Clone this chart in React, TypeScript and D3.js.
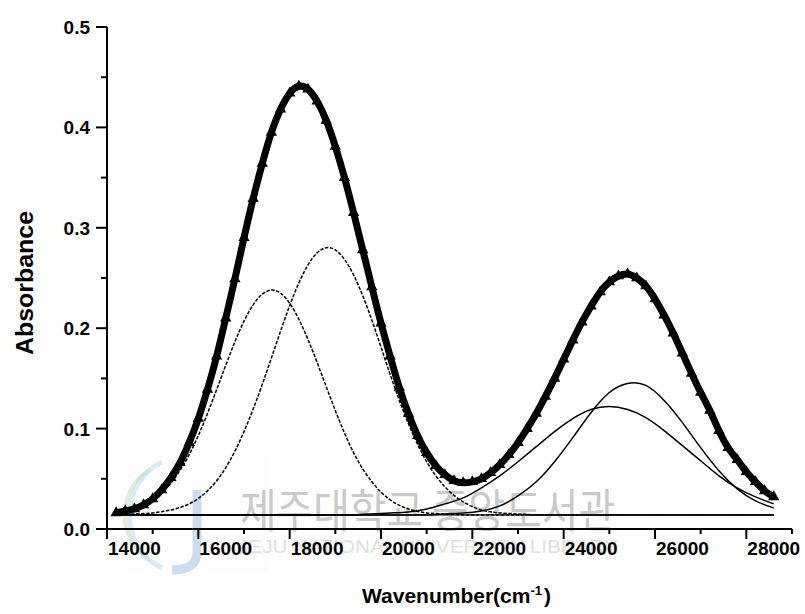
import React from 'react';
import * as d3 from 'd3';

const specWn = [
  14200, 14400, 14600, 14800, 15000, 15200, 15400, 15600, 15800, 16000,
  16200, 16400, 16600, 16800, 17000, 17200, 17400, 17600, 17800, 18000,
  18200, 18400, 18600, 18800, 19000, 19200, 19400, 19600, 19800, 20000,
  20200, 20400, 20600, 20800, 21000, 21200, 21400, 21600, 21800, 22000,
  22200, 22400, 22600, 22800, 23000, 23200, 23400, 23600, 23800, 24000,
  24200, 24400, 24600, 24800, 25000, 25200, 25400, 25600, 25800, 26000,
  26200, 26400, 26600, 26800, 27000, 27200, 27400, 27600, 27800, 28000,
  28200, 28400, 28600,
];
const absorbance = [
  0.016, 0.018, 0.020, 0.024, 0.030, 0.039, 0.051, 0.066, 0.086, 0.110,
  0.139, 0.172, 0.210, 0.249, 0.290, 0.329, 0.364, 0.395, 0.418, 0.434,
  0.441, 0.438, 0.426, 0.407, 0.381, 0.350, 0.315, 0.278, 0.241, 0.205,
  0.172, 0.141, 0.115, 0.093, 0.076, 0.063, 0.054, 0.048, 0.046, 0.047,
  0.050, 0.056, 0.064, 0.074, 0.086, 0.100, 0.115, 0.132, 0.150, 0.169,
  0.188, 0.206, 0.222, 0.236, 0.246, 0.252, 0.254, 0.250, 0.242, 0.229,
  0.213, 0.195, 0.175, 0.155, 0.136, 0.118, 0.098, 0.081, 0.069, 0.057,
  0.047, 0.038, 0.032,
];

// fitted bands
const fitWn = [
  14200, 14600, 15000, 15400, 15800, 16200, 16600, 17000, 17400, 17800,
  18200, 18600, 19000, 19400, 19800, 20200, 20600, 21000, 21400, 21800,
  22200, 22600, 23000, 23400, 23800, 24200, 24600, 25000, 25400, 25800,
  26200, 26600, 27000, 27400, 27800, 28200, 28600,
];
const band1 = [
  0.016, 0.020, 0.029, 0.046, 0.074, 0.115, 0.163, 0.207, 0.234, 0.235,
  0.209, 0.166, 0.118, 0.076, 0.047, 0.029, 0.020, 0.016, 0.015, 0.014,
  0.014, 0.014, 0.014, 0.014, 0.014, 0.014, 0.014, 0.014, 0.014, 0.014,
  0.014, 0.014, 0.014, 0.014, 0.014, 0.014, 0.014,
];
const band2 = [
  0.014, 0.015, 0.016, 0.019, 0.025, 0.038, 0.061, 0.097, 0.144, 0.197,
  0.245, 0.275, 0.278, 0.253, 0.208, 0.154, 0.105, 0.067, 0.042, 0.027,
  0.019, 0.016, 0.015, 0.014, 0.014, 0.014, 0.014, 0.014, 0.014, 0.014,
  0.014, 0.014, 0.014, 0.014, 0.014, 0.014, 0.014,
];
const band3 = [
  0.014, 0.014, 0.014, 0.014, 0.014, 0.014, 0.014, 0.014, 0.014, 0.014,
  0.014, 0.014, 0.014, 0.014, 0.014, 0.014, 0.014, 0.014, 0.015, 0.016,
  0.018, 0.023, 0.033, 0.047, 0.067, 0.091, 0.116, 0.136, 0.145, 0.143,
  0.128, 0.106, 0.081, 0.058, 0.040, 0.028, 0.021,
];
const band4 = [
  0.014, 0.014, 0.014, 0.014, 0.014, 0.014, 0.014, 0.014, 0.014, 0.014,
  0.014, 0.014, 0.014, 0.014, 0.015, 0.016, 0.017, 0.020, 0.025, 0.031,
  0.041, 0.053, 0.067, 0.082, 0.097, 0.110, 0.119, 0.122, 0.119, 0.111,
  0.098, 0.083, 0.068, 0.053, 0.041, 0.032, 0.025,
];
const baselineWn = [14200, 28600];
const baselineAbs = [0.014, 0.014];

const xMajor = [14000, 16000, 18000, 20000, 22000, 24000, 26000, 28000];
const xMinor = [15000, 17000, 19000, 21000, 23000, 25000, 27000, 29000];
const yMajor = [0, 0.1, 0.2, 0.3, 0.4, 0.5];
const yMinor = [0.05, 0.15, 0.25, 0.35, 0.45];

const FONT = '"Liberation Sans", Arial, sans-serif';

export default function App() {
  const x = d3.scaleLinear().domain([14000, 29000]).range([107, 792]);
  const y = d3.scaleLinear().domain([0, 0.5]).range([529, 27]);

  const line = (xs: number[], ys: number[]) =>
    d3.line<number>()
      .x((_, i) => x(xs[i]))
      .y(d => y(d))
      .curve(d3.curveNatural)(ys) || '';

  const tri = d3.symbol().type(d3.symbolTriangle).size(56)() || '';
  const bands = [
    { v: band1, dash: '3.5,1.5' },
    { v: band2, dash: '3.5,1.5' },
    { v: band3, dash: null },
    { v: band4, dash: null },
  ];

  return (
    <svg width={805} height={614} style={{ position: 'absolute', left: 0, top: 0, background: '#fff' }}>
      {/* library watermark */}
      <g>
        <rect x={128} y={455} width={140} height={118} fill="#f6f7f9" opacity={0.25} />
        <path d="M150,470 A45,50 0 0,0 150,560" fill="none" stroke="#c2dfb4" strokeWidth={4} opacity={0.5} />
        <path d="M162,462 A55,58 0 0,0 162,568" fill="none" stroke="#b4d2ea" strokeWidth={5} opacity={0.45} />
        <path d="M197,490 L197,552 Q197,570 172,570" fill="none" stroke="#b8cfea" strokeWidth={9} opacity={0.7} />
        <text x={240} y={527} fontFamily='"Noto Sans CJK KR", sans-serif' fontSize={46}
          fill="#cacaca" textLength={375} lengthAdjust="spacingAndGlyphs">제주대학교 중앙도서관</text>
        <text x={238} y={553} fontFamily={FONT} fontSize={19} fill="#e0e0e0"
          textLength={380} lengthAdjust="spacingAndGlyphs">JEJU NATIONAL UNIVERSITY LIBRARY</text>
      </g>

      <path d={line(baselineWn, baselineAbs)} fill="none" stroke="#555" strokeWidth={1.8} />

      {bands.map((b, i) => (
        <path key={i} d={line(fitWn, b.v)} fill="none" stroke="#000" strokeWidth={1.5}
          strokeDasharray={b.dash || undefined} />
      ))}

      <path d={line(specWn, absorbance)} fill="none" stroke="#000" strokeWidth={7} />
      {absorbance.map((a, i) => (
        <path key={i} d={tri} transform={`translate(${x(specWn[i])},${y(a)})`} fill="#000" />
      ))}

      {/* axes */}
      <line x1={107} x2={107} y1={y(0.5)} y2={y(0)} stroke="#000" strokeWidth={2} />
      <line x1={106} x2={x(29000)} y1={y(0)} y2={y(0)} stroke="#000" strokeWidth={2} />
      {yMajor.map(t => (
        <g key={t}>
          <line x1={96} x2={107} y1={y(t)} y2={y(t)} stroke="#000" strokeWidth={2} />
          <text x={90} y={y(t) + 7} textAnchor="end" fontFamily={FONT} fontWeight="bold" fontSize={19}>
            {t.toFixed(1)}
          </text>
        </g>
      ))}
      {yMinor.map(t => (
        <line key={t} x1={101} x2={107} y1={y(t)} y2={y(t)} stroke="#000" strokeWidth={2} />
      ))}
      {xMajor.map(t => (
        <g key={t}>
          <line x1={x(t)} x2={x(t)} y1={529} y2={539} stroke="#000" strokeWidth={2} />
          <text x={x(t) + 1} y={555} fontFamily={FONT} fontWeight="bold" fontSize={19}>{t}</text>
        </g>
      ))}
      {xMinor.map(t => (
        <line key={t} x1={x(t)} x2={x(t)} y1={529} y2={534} stroke="#000" strokeWidth={2} />
      ))}

      <text transform="translate(33,283) rotate(-90)" textAnchor="middle" fontFamily={FONT}
        fontWeight="bold" fontSize={23} textLength={144} lengthAdjust="spacingAndGlyphs">Absorbance</text>
      <text x={362} y={603} fontFamily={FONT} fontWeight="bold" fontSize={21}>
        Wavenumber(cm<tspan fontSize={13} dy={-8}>-1</tspan><tspan dy={8} dx={2}>)</tspan>
      </text>
    </svg>
  );
}
